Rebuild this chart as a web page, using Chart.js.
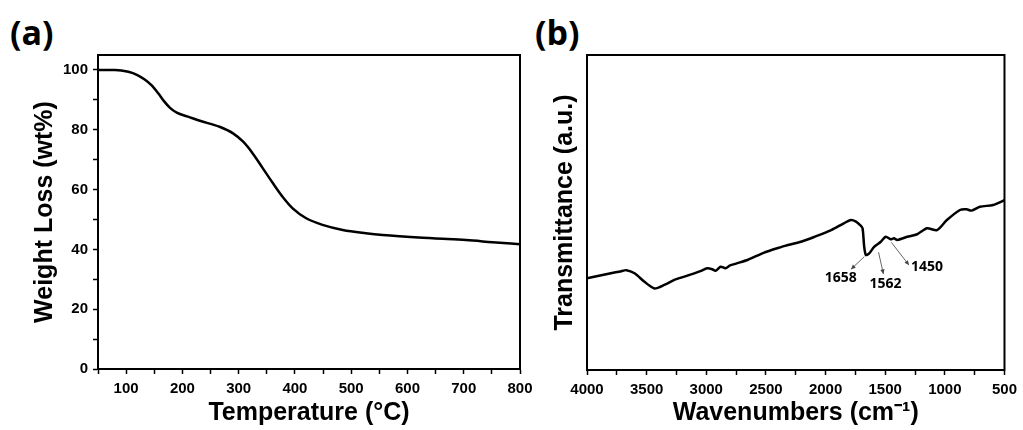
<!DOCTYPE html>
<html>
<head>
<meta charset="utf-8">
<script src="https://cdn.jsdelivr.net/npm/chart.js@4"></script>
<style>
  html, body { margin: 0; padding: 0; background: #fff; width: 1023px; height: 430px; overflow: hidden; }
  canvas { position: absolute; top: 0; }
  #ca { left: 0; }
  #cb { left: 490px; }
  .panel { position: absolute; font-family: "Open Sans", "Liberation Sans", sans-serif; font-weight: 700; font-size: 34px; line-height: 1; color: #000; }
</style>
</head>
<body>
<div class="panel" style="left:10px; top:15px;">(a)</div>
<div class="panel" style="left:535px; top:15px;">(b)</div>
<canvas id="ca" width="545" height="430"></canvas>
<canvas id="cb" width="533" height="430"></canvas>
<script>
// ---- Data: (a) TGA ----
const tgaTemp   = [50, 80, 104, 120, 133, 145, 157, 168, 178, 190, 210, 231, 266, 290, 308, 325, 343, 361, 378, 396, 420, 449, 485, 526, 556, 645, 704, 751, 800];
const tgaWeight = [100, 100, 99.4, 98.3, 96.8, 94.9, 92.2, 89.4, 87.3, 85.7, 84.4, 83.0, 81.0, 78.8, 76.0, 72.1, 67.1, 62.1, 57.6, 53.7, 50.4, 48.2, 46.5, 45.4, 44.8, 43.7, 43.1, 42.4, 41.7];
const tgaXLabels = [100, 200, 300, 400, 500, 600, 700, 800];
const tgaYLabels = [0, 20, 40, 60, 80, 100];

// ---- Data: (b) FTIR ----
const irWavenumber = [4000, 3900, 3800, 3720, 3670, 3601, 3518, 3435, 3352, 3268, 3171, 3050, 2992, 2950, 2922, 2880, 2839, 2800, 2650, 2520, 2368, 2340, 2200, 2091, 1953, 1850, 1787, 1745, 1710, 1690, 1676, 1662, 1634, 1593, 1537, 1496, 1454, 1427, 1398, 1316, 1232, 1149, 1066, 983, 873, 817, 776, 706, 595, 512, 500];
const irTransmittance = [29.1, 29.9, 30.7, 31.3, 31.7, 30.7, 28.0, 25.9, 27.0, 28.6, 29.8, 31.4, 32.3, 32.0, 31.5, 32.8, 32.3, 33.2, 35.0, 37.2, 39.1, 39.4, 40.8, 42.3, 44.4, 46.5, 47.6, 47.1, 46.0, 45.0, 39.1, 36.5, 37.0, 39.1, 40.7, 42.3, 41.5, 41.8, 41.3, 42.3, 43.1, 45.0, 44.4, 47.6, 50.8, 51.0, 50.6, 51.8, 52.4, 53.7, 54.0];
const irXLabels = [4000, 3500, 3000, 2500, 2000, 1500, 1000, 500];

// Peak annotations (label, arrow start wn/value, arrow end wn/value, label wn/value)
const peakLabels = ['1658', '1562', '1450'];
const arrowFromWn = [1675, 1556, 1448];
const arrowFromT  = [36.0, 37.4, 40.5];
const arrowToWn   = [1786, 1515, 1301];
const arrowToT    = [32.0, 30.5, 33.3];
const labelWn     = [1872, 1498, 1149];
const labelT      = [29.2, 27.3, 32.7];

const FONT = '"Liberation Sans", Arial, sans-serif';
const tickFont = { family: FONT, size: 15, weight: 'bold' };
const titleFont = { family: FONT, size: 25, weight: 'bold' };

const framePlugin = {
  id: 'frame',
  afterDraw(chart) {
    const { ctx, chartArea: a } = chart;
    ctx.save();
    ctx.strokeStyle = '#000';
    ctx.lineWidth = 2;
    ctx.strokeRect(a.left, a.top, a.right - a.left, a.bottom - a.top);
    ctx.restore();
  }
};

function gridOpts() {
  return { display: true, drawOnChartArea: false, drawTicks: true, tickLength: 5, tickColor: '#000', tickWidth: 1.5, color: '#000' };
}

// ---- Chart (a) ----
new Chart(document.getElementById('ca'), {
  type: 'line',
  data: {
    datasets: [{
      data: tgaTemp.map((t, i) => ({ x: t, y: tgaWeight[i] })),
      borderColor: '#000', borderWidth: 2.5, pointRadius: 0,
      cubicInterpolationMode: 'monotone', fill: false
    }]
  },
  options: {
    responsive: false, animation: false,
    layout: { padding: { top: 55, right: 25, left: 0, bottom: 0 } },
    plugins: { legend: { display: false }, tooltip: { enabled: false } },
    scales: {
      x: {
        type: 'linear', min: 50, max: 800,
        afterFit(s) { s.height = 61; },
        ticks: { stepSize: 50, includeBounds: false, autoSkip: false, maxRotation: 0, color: '#000', font: tickFont, padding: 6,
          callback: v => tgaXLabels.includes(v) ? String(v) : '' },
        grid: gridOpts(),
        border: { display: true, color: '#000', width: 2 },
        title: { display: true, text: 'Temperature (°C)', color: '#000', font: titleFont, padding: { top: 0, bottom: 2 } }
      },
      y: {
        type: 'linear', min: 0, max: 105,
        afterFit(s) { s.width = 98; },
        ticks: { stepSize: 10, includeBounds: false, autoSkip: false, color: '#000', font: tickFont, padding: 5,
          callback: v => tgaYLabels.includes(v) ? String(v) : '' },
        grid: gridOpts(),
        border: { display: true, color: '#000', width: 2 },
        title: { display: true, text: 'Weight Loss (wt%)', color: '#000', font: titleFont, padding: { top: 30, bottom: 0 } }
      }
    }
  },
  plugins: [framePlugin]
});

// ---- Chart (b) ----
const peakPlugin = {
  id: 'peaks',
  afterDatasetsDraw(chart) {
    const { ctx, scales: { x, y } } = chart;
    ctx.save();
    peakLabels.forEach((lab, i) => {
      const x1 = x.getPixelForValue(arrowFromWn[i]), y1 = y.getPixelForValue(arrowFromT[i]);
      const x2 = x.getPixelForValue(arrowToWn[i]),   y2 = y.getPixelForValue(arrowToT[i]);
      ctx.strokeStyle = '#666'; ctx.fillStyle = '#444'; ctx.lineWidth = 1;
      ctx.beginPath(); ctx.moveTo(x1, y1); ctx.lineTo(x2, y2); ctx.stroke();
      const ang = Math.atan2(y2 - y1, x2 - x1), L = 5;
      ctx.beginPath();
      ctx.moveTo(x2, y2);
      ctx.lineTo(x2 - L * Math.cos(ang - 0.45), y2 - L * Math.sin(ang - 0.45));
      ctx.lineTo(x2 - L * Math.cos(ang + 0.45), y2 - L * Math.sin(ang + 0.45));
      ctx.closePath(); ctx.fill();
      ctx.fillStyle = '#000';
      ctx.font = 'bold 14px "Open Sans", ' + FONT;
      ctx.textAlign = 'center'; ctx.textBaseline = 'middle';
      ctx.fillText(lab, x.getPixelForValue(labelWn[i]), y.getPixelForValue(labelT[i]));
    });
    ctx.restore();
  }
};

new Chart(document.getElementById('cb'), {
  type: 'line',
  data: {
    datasets: [{
      data: irWavenumber.map((w, i) => ({ x: w, y: irTransmittance[i] })),
      borderColor: '#000', borderWidth: 2.5, pointRadius: 0, tension: 0.25, fill: false
    }]
  },
  options: {
    responsive: false, animation: false,
    layout: { padding: { top: 55, right: 15, left: 0, bottom: 0 } },
    plugins: { legend: { display: false }, tooltip: { enabled: false } },
    scales: {
      x: {
        type: 'linear', min: 500, max: 4000, reverse: true,
        afterFit(s) { s.height = 60; },
        ticks: { stepSize: 250, includeBounds: false, autoSkip: false, maxRotation: 0, color: '#000', font: tickFont, padding: 6,
          callback: v => irXLabels.includes(v) ? String(v) : '' },
        grid: gridOpts(),
        border: { display: true, color: '#000', width: 2 },
        title: { display: true, text: 'Wavenumbers (cm⁻¹)', color: '#000', font: titleFont, padding: { top: 0, bottom: 2 } }
      },
      y: {
        type: 'linear', min: 0, max: 100,
        afterFit(s) { s.width = 97; },
        ticks: { display: false },
        grid: { display: false },
        border: { display: true, color: '#000', width: 2 },
        title: { display: true, text: 'Transmittance (a.u.)', color: '#000', font: titleFont, padding: { top: 60, bottom: 0 } }
      }
    }
  },
  plugins: [framePlugin, peakPlugin]
});
</script>
</body>
</html>
